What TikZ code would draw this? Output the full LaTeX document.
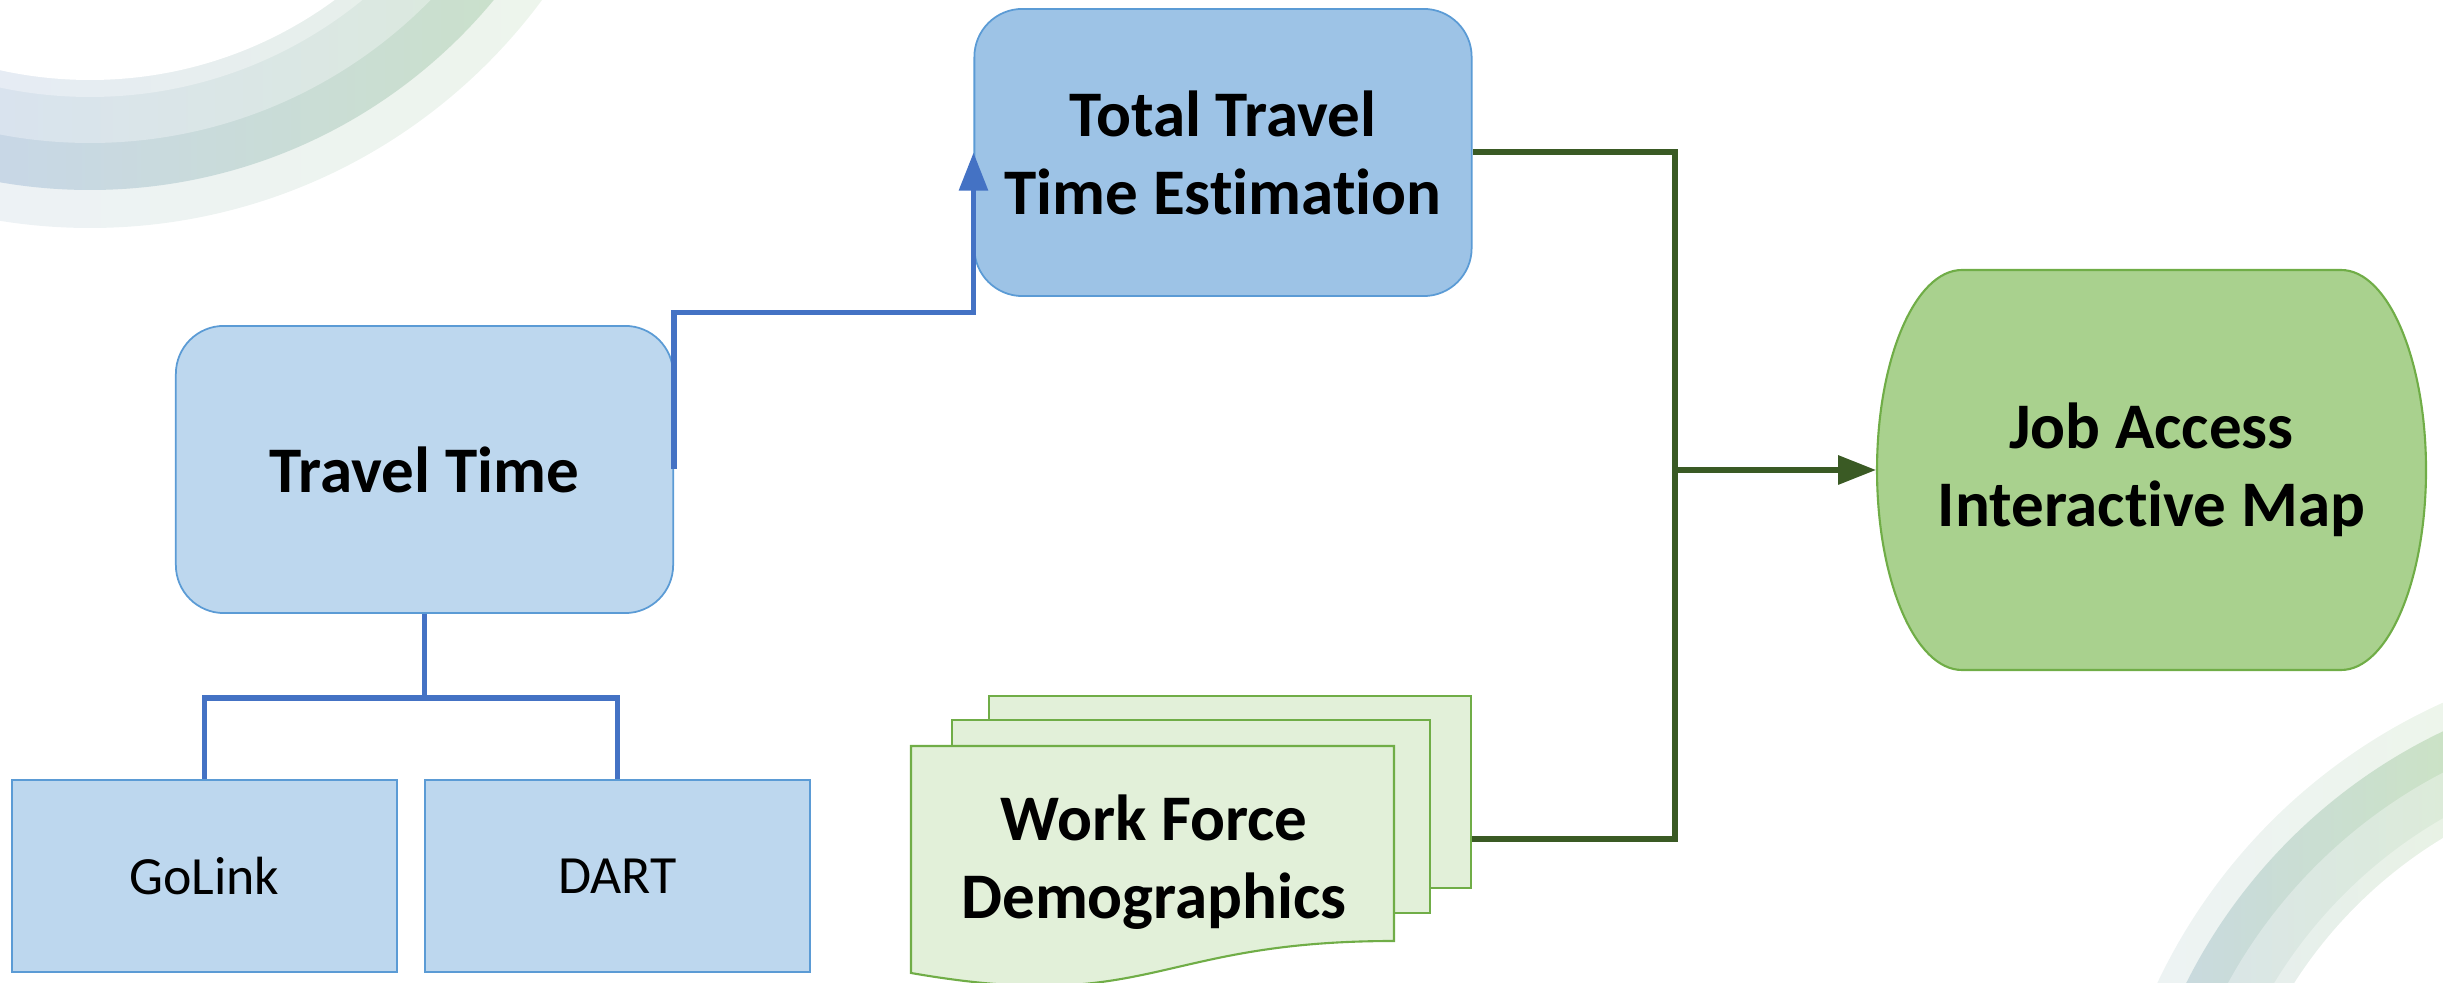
\documentclass[tikz,border=0pt]{standalone}
\usepackage{fontspec}
\setmainfont{Carlito}[Ligatures=NoCommon]
\usetikzlibrary{arrows.meta}

\definecolor{boxblue}{HTML}{BDD7EE}
\definecolor{boxbluedark}{HTML}{9DC3E6}
\definecolor{edgeblue}{HTML}{5B9BD5}
\definecolor{linkblue}{HTML}{4472C4}
\definecolor{boxgreen}{HTML}{A9D18E}
\definecolor{boxgreenlight}{HTML}{E2F0D9}
\definecolor{edgegreen}{HTML}{70AD47}
\definecolor{linkgreen}{HTML}{3A5A24}
% background swooshes
\definecolor{ringAa}{HTML}{EDF2F5}\definecolor{ringAb}{HTML}{EDF5EB}
\definecolor{ringBa}{HTML}{C8D7E6}\definecolor{ringBb}{HTML}{CBE2C6}
\definecolor{ringCa}{HTML}{D9E3EE}\definecolor{ringCb}{HTML}{DCEBD9}
\definecolor{ringDa}{HTML}{E6ECF4}\definecolor{ringDb}{HTML}{E8F2E5}

\newcommand{\titlefont}{\fontsize{18.5}{22.2}\selectfont\bfseries}
\newcommand{\subfont}{\fontsize{15.3}{18.4}\selectfont}

\tikzset{
  stagebox/.style={draw=edgeblue, line width=0.5pt, fill=boxblue, rounded corners=0.48cm,
    minimum width=4.97cm, minimum height=2.87cm, align=center, font=\titlefont},
  modebox/.style={draw=edgeblue, line width=0.5pt, fill=boxblue,
    minimum width=3.85cm, minimum height=1.92cm, font=\subfont},
  docsheet/.style={draw=edgegreen, line width=0.6pt, fill=boxgreenlight},
  bluelink/.style={draw=linkblue, line width=1.6pt},
  greenlink/.style={draw=linkgreen, line width=1.7pt},
  tip/.style={-{Triangle[length=0.38cm,width=0.28cm]}}
}

\begin{document}
\begin{tikzpicture}[x=0.01cm, y=0.01cm]
    \useasboundingbox (0,0) rectangle (2443,982);

    % swooshes in the corners
    \begin{scope}
        \clip (0,0) rectangle (2443,982);
        \foreach \r/\ca/\cb in {562/ringAa/ringAb, 524/ringBa/ringBb, 477/ringCa/ringCb, 431/ringDa/ringDb}
        {
            \begin{scope}
                \clip (90,1316) circle (\r);
                \shade[left color=\ca, right color=\cb] (0,600) rectangle (600,982);
            \end{scope}
        }
        \fill[white] (90,1316) circle (414);
        \foreach \r/\ca/\cb in {578/ringAa/ringAb, 552/ringBa/ringBb, 515/ringCa/ringCb, 475/ringDa/ringDb}
        {
            \begin{scope}
                \clip (2680,-248) circle (\r);
                \shade[left color=\ca, right color=\cb] (2100,0) rectangle (2443,340);
            \end{scope}
        }
        \fill[white] (2680,-248) circle (458);
    \end{scope}

    % blue boxes
    \node[stagebox] (tt) at (424.5,512.5) {Travel Time};
    \node[stagebox, fill=boxbluedark] (total) at (1223,829.5) {Total Travel\\Time Estimation};
    \node[modebox] (golink) at (204.5,106) {GoLink};
    \node[modebox] (dart) at (617.5,106) {DART};

    % stacked documents
    \filldraw[docsheet] (989,94) rectangle (1471,286);
    \filldraw[docsheet] (952,69) rectangle (1430,262);
    \filldraw[docsheet] (911,236) -- (1394,236) -- (1394,41)
        .. controls (1152.5,41) and (1152.5,-33) .. (911,9) -- cycle;
    \node[minimum width=5.6cm, minimum height=2.86cm] (wfd) at (1191,143) {};
    \node[align=center, font=\titlefont] (wfdtext) at (1154,120) {Work Force\\Demographics};

    % map shape
    \filldraw[draw=edgegreen, line width=0.6pt, fill=boxgreen] (1962,712) -- (2341,712)
        arc[start angle=90, end angle=-90, x radius=85, y radius=200] -- (1962,312)
        arc[start angle=270, end angle=90, x radius=85, y radius=200] -- cycle;
    \node[minimum width=5.49cm, minimum height=4cm, align=center, font=\titlefont] (jam) at (2151.5,512) {Job Access\\Interactive Map};

    % connectors
    \draw[bluelink] (tt.south) -- ++(0,-84) -| (golink.north);
    \draw[bluelink] (tt.south) -- ++(0,-84) -| (dart.north);
    \draw[bluelink, tip] (tt.east) -- ++(0,157) -| (total.west);

    \coordinate (merge) at (1675,512);
    \draw[greenlink] (total.east) -| (merge);
    \draw[greenlink] (wfd.east) -| (merge);
    \draw[greenlink, tip] (merge) -- (jam.west);
\end{tikzpicture}
\end{document}
